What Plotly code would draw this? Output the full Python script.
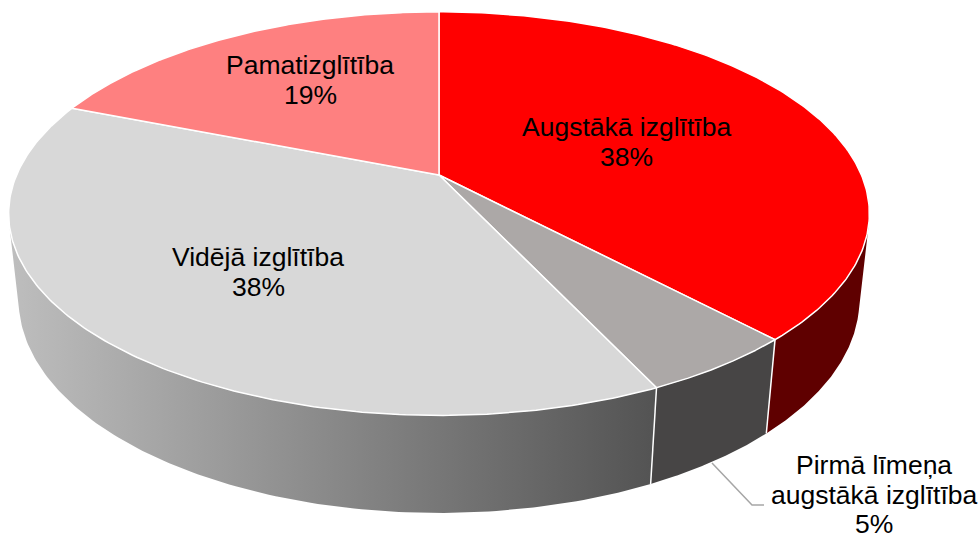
import numpy as np
import plotly.graph_objects as go

# ---- data ----
categories = ["Augstākā izglītība", "Pirmā līmeņa augstākā izglītība", "Vidējā izglītība", "Pamatizglītība"]
values = [38, 5, 38, 19]
pct_labels = ["38%", "5%", "38%", "19%"]

# ---- style ----
top_colors = ["#FF0000", "#ACA8A7", "#D8D8D8", "#FE8080"]
wall_colors = ["#5F0000", "#474545", None, "#B04040"]
wall_gradient = [[0, "#BEBEBE"], [1, "#535353"]]

W, H = 979, 539
CX, CY = 439, 175          # screen position of the pie centre
PHI = np.radians(27.4)     # elevation
DIST = 4.64                # camera distance (radius units)
FOCAL = 1960               # px
DEPTH = 0.231              # pie thickness (radius units)
cphi, sphi = np.cos(PHI), np.sin(PHI)


def proj(theta_deg, z=0.0, r=1.0):
    t = np.radians(np.asarray(theta_deg, dtype=float))
    X = r * np.sin(t)
    Y = r * np.cos(t)
    dep = DIST + Y * cphi - z * sphi
    v = Y * sphi + z * cphi
    return CX + FOCAL * X / dep, CY - FOCAL * v / dep


total = float(sum(values))
bounds = np.concatenate([[0], np.cumsum(values) / total * 360.0])
tv = np.degrees(np.arccos(-1.0 / (DIST * cphi)))   # visible wall range
vis_lo, vis_hi = tv, 360.0 - tv

fig = go.Figure()

# walls
for i in range(len(values)):
    a, b = max(bounds[i], vis_lo), min(bounds[i + 1], vis_hi)
    if a >= b:
        continue
    th = np.linspace(a, b, 120)
    xt, yt = proj(th, 0.0)
    xb, yb = proj(th[::-1], -DEPTH)
    xs = np.concatenate([xt, xb, xt[:1]])
    ys = np.concatenate([yt, yb, yt[:1]])
    kw = dict(x=xs, y=ys, mode="lines", fill="toself", line=dict(width=0),
              hoverinfo="skip", showlegend=False)
    if wall_colors[i] is None:
        kw["fillgradient"] = dict(type="horizontal", colorscale=wall_gradient)
    else:
        kw["fillcolor"] = wall_colors[i]
    fig.add_trace(go.Scatter(**kw))

# white separators on walls
for bd in bounds[1:-1]:
    if vis_lo < bd < vis_hi:
        x0, y0 = proj(bd, 0.0)
        x1, y1 = proj(bd, -DEPTH)
        fig.add_trace(go.Scatter(x=[x0, x1], y=[y0, y1], mode="lines",
                                 line=dict(color="white", width=1.5),
                                 hoverinfo="skip", showlegend=False))

# top faces
for i in range(len(values)):
    th = np.linspace(bounds[i], bounds[i + 1], 200)
    xt, yt = proj(th, 0.0)
    xs = np.concatenate([[CX], xt, [CX]])
    ys = np.concatenate([[CY], yt, [CY]])
    fig.add_trace(go.Scatter(x=xs, y=ys, mode="lines", fill="toself",
                             fillcolor=top_colors[i],
                             line=dict(color="white", width=1.5),
                             hoverinfo="skip", showlegend=False,
                             name=categories[i]))

# labels (layout positions: centre x, first baseline y)
label_lines = [
    ["Augstākā izglītība", pct_labels[0]],
    ["Pirmā līmeņa", "augstākā izglītība", pct_labels[1]],
    ["Vidējā izglītība", pct_labels[2]],
    ["Pamatizglītība", pct_labels[3]],
]
label_pos = [(626, 137), (874, 475), (258, 267), (310, 75)]
LINE_GAP = 29.3
FS = 26.5
for lines, (lx, ly) in zip(label_lines, label_pos):
    for k, txt in enumerate(lines):
        fig.add_annotation(x=lx, y=ly + k * LINE_GAP - 0.36 * FS, text=txt,
                           showarrow=False, xanchor="center", yanchor="middle",
                           font=dict(family="Liberation Sans, Arial", size=FS, color="black"))

# leader line for the small slice
fig.add_shape(type="path", path="M 712 463 L 752 505 L 764 505",
              line=dict(color="#A6A6A6", width=1.5), xref="x", yref="y")

fig.update_layout(
    width=W, height=H, margin=dict(l=0, r=0, t=0, b=0),
    paper_bgcolor="white", plot_bgcolor="white",
    xaxis=dict(range=[0, W], visible=False, fixedrange=True),
    yaxis=dict(range=[H, 0], visible=False, fixedrange=True),
    showlegend=False,
)
fig.write_html("out.html", config={"displayModeBar": False},
               post_script="document.body.style.margin='0px';document.body.style.overflow='hidden';")
